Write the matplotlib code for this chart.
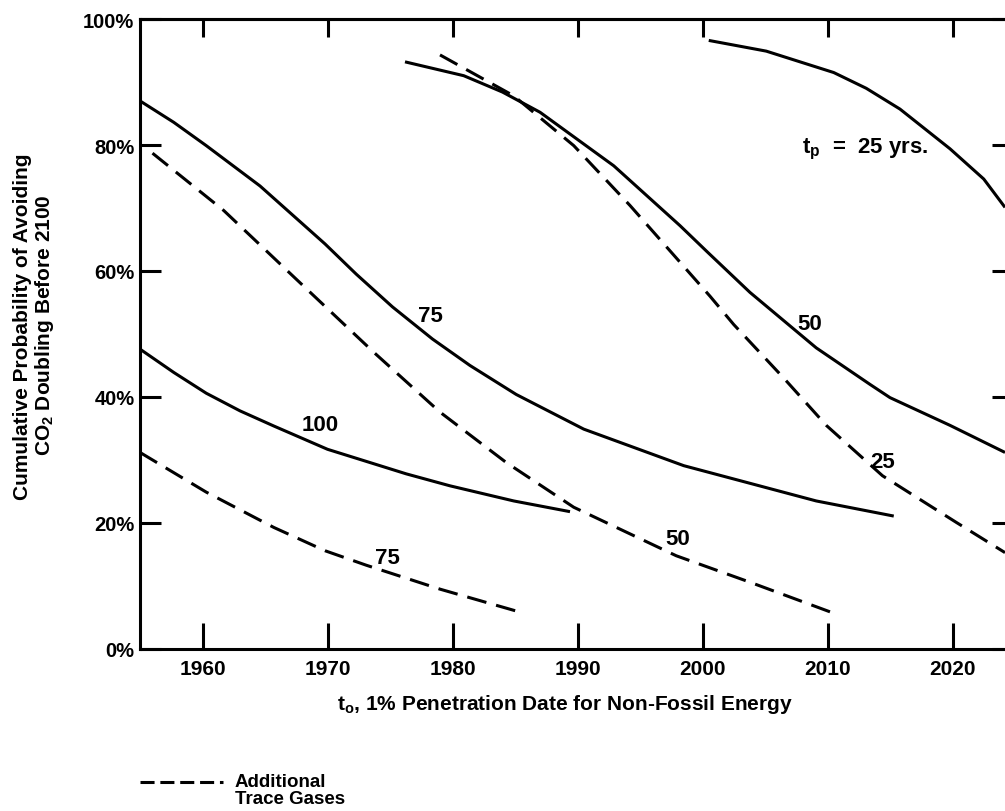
import matplotlib
matplotlib.use("Agg")
import matplotlib.pyplot as plt
from matplotlib.lines import Line2D

plt.rcParams['font.family'] = ['Liberation Sans', 'DejaVu Sans']
plt.rcParams['font.weight'] = 'bold'
plt.rcParams['mathtext.fontset'] = 'custom'
plt.rcParams['mathtext.rm'] = 'Liberation Sans:bold'
plt.rcParams['mathtext.bf'] = 'Liberation Sans:bold'
plt.rcParams['mathtext.it'] = 'Liberation Sans:bold'

# ---- data (year, cumulative probability %) ----
solid100_x = [1955.0, 1957.7, 1960.3, 1963.0, 1965.7, 1970.0, 1976.3, 1979.8, 1984.9, 1989.4]
solid100_y = [47.6, 43.9, 40.6, 37.8, 35.4, 31.7, 27.8, 25.9, 23.5, 21.8]

solid75_x = [1955.0, 1957.7, 1960.3, 1964.6, 1969.8, 1972.3, 1975.2, 1978.4, 1981.4,
             1985.1, 1990.5, 1998.5, 2009.1, 2015.3]
solid75_y = [87.0, 83.6, 79.9, 73.5, 64.3, 59.5, 54.3, 49.2, 45.0,
             40.4, 34.9, 29.1, 23.5, 21.1]

solid50_x = [1976.2, 1980.9, 1984.0, 1987.0, 1992.9, 1998.2, 2000.4, 2003.8, 2009.1, 2013.4,
             2015.0, 2019.8, 2024.2]
solid50_y = [93.2, 91.0, 88.4, 85.2, 76.7, 67.2, 63.0, 56.6, 47.8, 42.0,
             39.9, 35.5, 31.2]

solid25_x = [2000.5, 2005.1, 2010.5, 2013.1, 2015.8, 2019.8, 2022.5, 2024.2]
solid25_y = [96.6, 94.9, 91.5, 89.0, 85.7, 79.4, 74.6, 70.1]

dash25_x = [1979.0, 1984.9, 1989.7, 1994.2, 1998.2, 2000.6, 2002.5, 2006.5, 2009.9,
            2014.4, 2020.3, 2024.2]
dash25_y = [94.3, 87.8, 79.9, 70.4, 61.4, 56.0, 51.5, 43.0, 35.5,
            27.5, 20.1, 15.3]

dash50_x = [1956.0, 1961.7, 1967.5, 1973.7, 1979.0, 1984.3, 1989.7, 1997.9, 2003.8, 2010.2]
dash50_y = [78.7, 69.6, 58.7, 47.1, 37.6, 29.6, 22.5, 14.8, 10.6, 5.9]

dash75_x = [1955.0, 1960.3, 1965.7, 1969.8, 1973.1, 1979.0, 1985.5]
dash75_y = [31.2, 24.9, 19.3, 15.6, 13.3, 9.5, 5.8]

x_ticks = [1960, 1970, 1980, 1990, 2000, 2010, 2020]
y_ticks = [0, 20, 40, 60, 80, 100]
y_ticklabels = ['0%', '20%', '40%', '60%', '80%', '100%']

curve_labels = ['100', '75', '50', '25', '50', '75']
curve_label_pos = [(1969.4, 35.6), (1978.2, 53.0), (2008.6, 51.6),
                   (2014.4, 29.7), (1998.0, 17.5), (1974.8, 14.6)]
tp_label = r'$\mathbf{t_p}$  =  25 yrs.'
x_label = r'$\mathbf{t_o}$, 1% Penetration Date for Non-Fossil Energy'
y_label_1 = 'Cumulative Probability of Avoiding'
y_label_2 = r'CO$_{\mathbf{2}}$ Doubling Before 2100'
legend_text = 'Additional\nTrace Gases'

# ---- figure ----
W, H = 1005, 812
fig = plt.figure(figsize=(W / 100, H / 100), dpi=100)
ax = fig.add_axes([140 / W, 1 - 650 / H, 873 / W, 630 / H])
ax.set_xlim(1955, 1955 + 873 / 12.5)
ax.set_ylim(0, 100)

lw = 2.2
dpat = (6.5, 3.3)
for xs, ys in [(solid100_x, solid100_y), (solid75_x, solid75_y),
               (solid50_x, solid50_y), (solid25_x, solid25_y)]:
    ax.plot(xs, ys, color='black', lw=lw, solid_capstyle='butt', solid_joinstyle='round')
for xs, ys in [(dash25_x, dash25_y), (dash50_x, dash50_y), (dash75_x, dash75_y)]:
    ax.plot(xs, ys, color='black', lw=lw, dashes=dpat)

for s in ax.spines.values():
    s.set_linewidth(2.2)

ax.set_xticks(x_ticks)
ax.set_xticklabels([str(t) for t in x_ticks])
ax.set_yticks(y_ticks)
ax.set_yticklabels(y_ticklabels)
ax.tick_params(axis='x', direction='in', length=19, width=2.2, pad=7,
               labelsize=15, bottom=True, top=False)
ax.tick_params(axis='y', direction='in', length=15, width=2.2, pad=4,
               labelsize=14.5, left=True, right=True)
for lab in ax.get_xticklabels() + ax.get_yticklabels():
    lab.set_fontweight('bold')

top = ax.secondary_xaxis('top')
top.set_xticks(x_ticks)
top.tick_params(direction='in', length=13, width=2.2, labeltop=False)
top.spines['top'].set_linewidth(2.2)

for txt, (px, py) in zip(curve_labels, curve_label_pos):
    ax.text(px, py, txt, fontsize=16, fontweight='bold', ha='center', va='center')
ax.text(2013.0, 79.4, tp_label, fontsize=16, fontweight='bold', ha='center', va='center')

fig.text(565 / W, 1 - 705 / H, x_label, fontsize=15, fontweight='bold',
         ha='center', va='center')
fig.text(23 / W, 1 - 327 / H, y_label_1, fontsize=15, fontweight='bold',
         ha='center', va='center', rotation=90)
fig.text(45 / W, 1 - 325 / H, y_label_2, fontsize=15, fontweight='bold',
         ha='center', va='center', rotation=90)

fig.add_artist(Line2D([140 / W, 223 / W], [1 - 783 / H, 1 - 783 / H],
                      transform=fig.transFigure, color='black', lw=2.2,
                      dashes=(4.6, 1.9)))
fig.text(235 / W, 1 - 791 / H, legend_text, fontsize=13.5, fontweight='bold',
         ha='left', va='center', linespacing=1.0)

fig.savefig('out.png', dpi=100)
